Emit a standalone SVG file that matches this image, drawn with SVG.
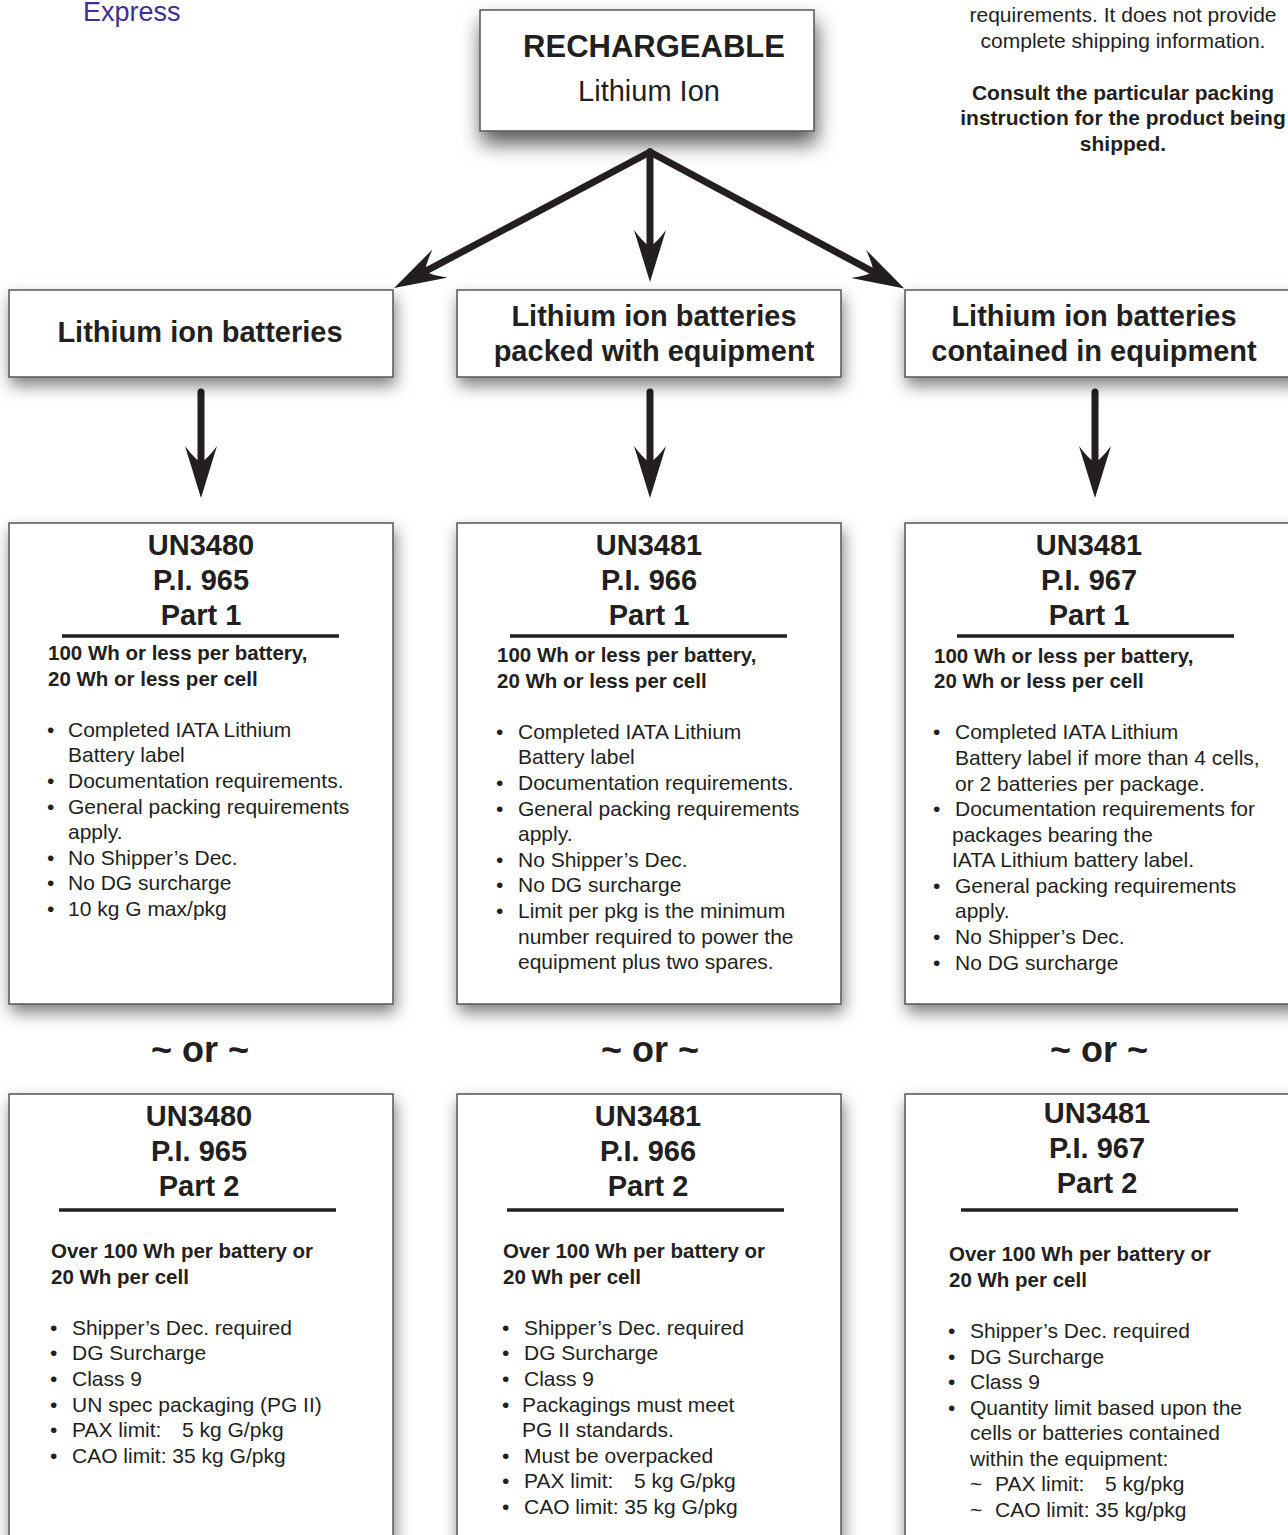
<svg xmlns="http://www.w3.org/2000/svg" width="1288" height="1535" viewBox="0 0 1288 1535">
<style>
text{font-family:"Liberation Sans",Arial,sans-serif;fill:#231f20}
.box{fill:#fff;stroke:#555;stroke-width:1.5}
.b{font-weight:bold}
.t1{font-size:31px;font-weight:bold}
.t2{font-size:29px}
.h2{font-size:29px;font-weight:bold}
.un{font-size:29px;font-weight:bold}
.hd{font-size:20.5px;font-weight:bold}
.bl{font-size:21px}
.or{font-size:36px;font-weight:bold}
.note{font-size:21px}
.c{text-anchor:middle}
.div{stroke:#231f20;stroke-width:3.5}
.arr{stroke:#231f20;stroke-width:7;fill:none;stroke-linecap:round}
</style>
<defs>
<filter id="sh" x="-20%" y="-20%" width="140%" height="160%">
<feDropShadow dx="2" dy="8" stdDeviation="8" flood-color="#000" flood-opacity="0.5"/>
</filter>
<filter id="sh2" x="-20%" y="-20%" width="140%" height="180%">
<feDropShadow dx="2" dy="12" stdDeviation="10" flood-color="#000" flood-opacity="0.65"/>
</filter>
<marker id="ah" viewBox="0 0 52 32" markerWidth="52" markerHeight="32" refX="17" refY="16" orient="auto" markerUnits="userSpaceOnUse">
<path d="M52,16 L0,0 Q12,9 17,16 Q12,23 0,32 Z" fill="#231f20"/>
</marker>
</defs>

<text x="83" y="21" style="font-size:27px;fill:#3f2f94">Express</text>

<g id="note" class="c">
<text class="note" x="1123" y="22">requirements. It does not provide</text>
<text class="note" x="1123" y="48">complete shipping information.</text>
<text class="note b" x="1123" y="100">Consult the particular packing</text>
<text class="note b" x="1123" y="125">instruction for the product being</text>
<text class="note b" x="1123" y="151">shipped.</text>
</g>

<g id="root">
<rect class="box" x="480" y="10" width="334" height="121" filter="url(#sh2)"/>
<text class="t1 c" x="654" y="57">RECHARGEABLE</text>
<text class="t2 c" x="649" y="101">Lithium Ion</text>
</g>

<g id="connectors">
<line class="arr" x1="650" y1="152" x2="425" y2="271.5" marker-end="url(#ah)"/>
<line class="arr" x1="650" y1="152" x2="650" y2="247" marker-end="url(#ah)"/>
<line class="arr" x1="650" y1="152" x2="873.5" y2="272" marker-end="url(#ah)"/>
<line class="arr" x1="201" y1="392" x2="201" y2="463" marker-end="url(#ah)"/>
<line class="arr" x1="650" y1="392" x2="650" y2="463" marker-end="url(#ah)"/>
<line class="arr" x1="1095" y1="392" x2="1095" y2="463" marker-end="url(#ah)"/>
</g>

<g id="cat1">
<rect class="box" x="9" y="290" width="384" height="87" filter="url(#sh)"/>
<text class="h2 c" x="200" y="342">Lithium ion batteries</text>
</g>
<g id="cat2">
<rect class="box" x="457" y="290" width="384" height="87" filter="url(#sh)"/>
<text class="h2 c" x="654" y="326">Lithium ion batteries</text>
<text class="h2 c" x="654" y="361">packed with equipment</text>
</g>
<g id="cat3">
<rect class="box" x="905" y="290" width="395" height="87" filter="url(#sh)"/>
<text class="h2 c" x="1094" y="326">Lithium ion batteries</text>
<text class="h2 c" x="1094" y="361">contained in equipment</text>
</g>

<g id="p965-1">
<rect class="box" x="9" y="523" width="384" height="481" filter="url(#sh)"/>
<text class="un c" x="201" y="555">UN3480</text>
<text class="un c" x="201" y="590">P.I. 965</text>
<text class="un c" x="201" y="625">Part 1</text>
<line class="div" x1="62" y1="636" x2="339" y2="636"/>
<text class="hd" x="48" y="660">100 Wh or less per battery,</text>
<text class="hd" x="48" y="686">20 Wh or less per cell</text>
<g class="bl">
<text x="47" y="737">•</text><text x="68" y="737">Completed IATA Lithium</text>
<text x="68" y="762">Battery label</text>
<text x="47" y="788">•</text><text x="68" y="788">Documentation requirements.</text>
<text x="47" y="814">•</text><text x="68" y="814">General packing requirements</text>
<text x="68" y="839">apply.</text>
<text x="47" y="865">•</text><text x="68" y="865">No Shipper’s Dec.</text>
<text x="47" y="890">•</text><text x="68" y="890">No DG surcharge</text>
<text x="47" y="916">•</text><text x="68" y="916">10 kg G max/pkg</text>
</g>
</g>

<g id="p966-1">
<rect class="box" x="457" y="523" width="384" height="481" filter="url(#sh)"/>
<text class="un c" x="649" y="555">UN3481</text>
<text class="un c" x="649" y="590">P.I. 966</text>
<text class="un c" x="649" y="625">Part 1</text>
<line class="div" x1="510" y1="636" x2="787" y2="636"/>
<text class="hd" x="497" y="662">100 Wh or less per battery,</text>
<text class="hd" x="497" y="688">20 Wh or less per cell</text>
<g class="bl">
<text x="496" y="739">•</text><text x="518" y="739">Completed IATA Lithium</text>
<text x="518" y="764">Battery label</text>
<text x="496" y="790">•</text><text x="518" y="790">Documentation requirements.</text>
<text x="496" y="816">•</text><text x="518" y="816">General packing requirements</text>
<text x="518" y="841">apply.</text>
<text x="496" y="867">•</text><text x="518" y="867">No Shipper’s Dec.</text>
<text x="496" y="892">•</text><text x="518" y="892">No DG surcharge</text>
<text x="496" y="918">•</text><text x="518" y="918">Limit per pkg is the minimum</text>
<text x="518" y="944">number required to power the</text>
<text x="518" y="969">equipment plus two spares.</text>
</g>
</g>

<g id="p967-1">
<rect class="box" x="905" y="523" width="395" height="481" filter="url(#sh)"/>
<text class="un c" x="1089" y="555">UN3481</text>
<text class="un c" x="1089" y="590">P.I. 967</text>
<text class="un c" x="1089" y="625">Part 1</text>
<line class="div" x1="957" y1="636" x2="1234" y2="636"/>
<text class="hd" x="934" y="663">100 Wh or less per battery,</text>
<text class="hd" x="934" y="688">20 Wh or less per cell</text>
<g class="bl">
<text x="933" y="739">•</text><text x="955" y="739">Completed IATA Lithium</text>
<text x="955" y="765">Battery label if more than 4 cells,</text>
<text x="955" y="791">or 2 batteries per package.</text>
<text x="933" y="816">•</text><text x="955" y="816">Documentation requirements for</text>
<text x="952" y="842">packages bearing the</text>
<text x="952" y="867">IATA Lithium battery label.</text>
<text x="933" y="893">•</text><text x="955" y="893">General packing requirements</text>
<text x="955" y="918">apply.</text>
<text x="933" y="944">•</text><text x="955" y="944">No Shipper’s Dec.</text>
<text x="933" y="970">•</text><text x="955" y="970">No DG surcharge</text>
</g>
</g>

<g id="or">
<text class="or c" x="200" y="1062">~ or ~</text>
<text class="or c" x="650" y="1062">~ or ~</text>
<text class="or c" x="1099" y="1062">~ or ~</text>
</g>

<g id="p965-2">
<rect class="box" x="9" y="1094" width="384" height="460" filter="url(#sh)"/>
<text class="un c" x="199" y="1126">UN3480</text>
<text class="un c" x="199" y="1161">P.I. 965</text>
<text class="un c" x="199" y="1196">Part 2</text>
<line class="div" x1="59" y1="1210" x2="336" y2="1210"/>
<text class="hd" x="51" y="1258">Over 100 Wh per battery or</text>
<text class="hd" x="51" y="1284">20 Wh per cell</text>
<g class="bl">
<text x="50" y="1335">•</text><text x="72" y="1335">Shipper’s Dec. required</text>
<text x="50" y="1360">•</text><text x="72" y="1360">DG Surcharge</text>
<text x="50" y="1386">•</text><text x="72" y="1386">Class 9</text>
<text x="50" y="1412">•</text><text x="72" y="1412">UN spec packaging (PG II)</text>
<text x="50" y="1437">•</text><text x="72" y="1437">PAX limit:</text><text x="182" y="1437">5 kg G/pkg</text>
<text x="50" y="1463">•</text><text x="72" y="1463">CAO limit: 35 kg G/pkg</text>
</g>
</g>

<g id="p966-2">
<rect class="box" x="457" y="1094" width="384" height="460" filter="url(#sh)"/>
<text class="un c" x="648" y="1126">UN3481</text>
<text class="un c" x="648" y="1161">P.I. 966</text>
<text class="un c" x="648" y="1196">Part 2</text>
<line class="div" x1="507" y1="1210" x2="784" y2="1210"/>
<text class="hd" x="503" y="1258">Over 100 Wh per battery or</text>
<text class="hd" x="503" y="1284">20 Wh per cell</text>
<g class="bl">
<text x="502" y="1335">•</text><text x="524" y="1335">Shipper’s Dec. required</text>
<text x="502" y="1360">•</text><text x="524" y="1360">DG Surcharge</text>
<text x="502" y="1386">•</text><text x="524" y="1386">Class 9</text>
<text x="502" y="1412">•</text><text x="522" y="1412">Packagings must meet</text>
<text x="522" y="1437">PG II standards.</text>
<text x="502" y="1463">•</text><text x="524" y="1463">Must be overpacked</text>
<text x="502" y="1488">•</text><text x="524" y="1488">PAX limit:</text><text x="634" y="1488">5 kg G/pkg</text>
<text x="502" y="1514">•</text><text x="524" y="1514">CAO limit: 35 kg G/pkg</text>
</g>
</g>

<g id="p967-2">
<rect class="box" x="905" y="1094" width="395" height="460" filter="url(#sh)"/>
<text class="un c" x="1097" y="1123">UN3481</text>
<text class="un c" x="1097" y="1158">P.I. 967</text>
<text class="un c" x="1097" y="1193">Part 2</text>
<line class="div" x1="961" y1="1210" x2="1238" y2="1210"/>
<text class="hd" x="949" y="1261">Over 100 Wh per battery or</text>
<text class="hd" x="949" y="1287">20 Wh per cell</text>
<g class="bl">
<text x="948" y="1338">•</text><text x="970" y="1338">Shipper’s Dec. required</text>
<text x="948" y="1364">•</text><text x="970" y="1364">DG Surcharge</text>
<text x="948" y="1389">•</text><text x="970" y="1389">Class 9</text>
<text x="948" y="1415">•</text><text x="970" y="1415">Quantity limit based upon the</text>
<text x="970" y="1440">cells or batteries contained</text>
<text x="970" y="1466">within the equipment:</text>
<text x="970" y="1491">~</text><text x="995" y="1491">PAX limit:</text><text x="1105" y="1491">5 kg/pkg</text>
<text x="970" y="1517">~</text><text x="995" y="1517">CAO limit: 35 kg/pkg</text>
</g>
</g>
</svg>
